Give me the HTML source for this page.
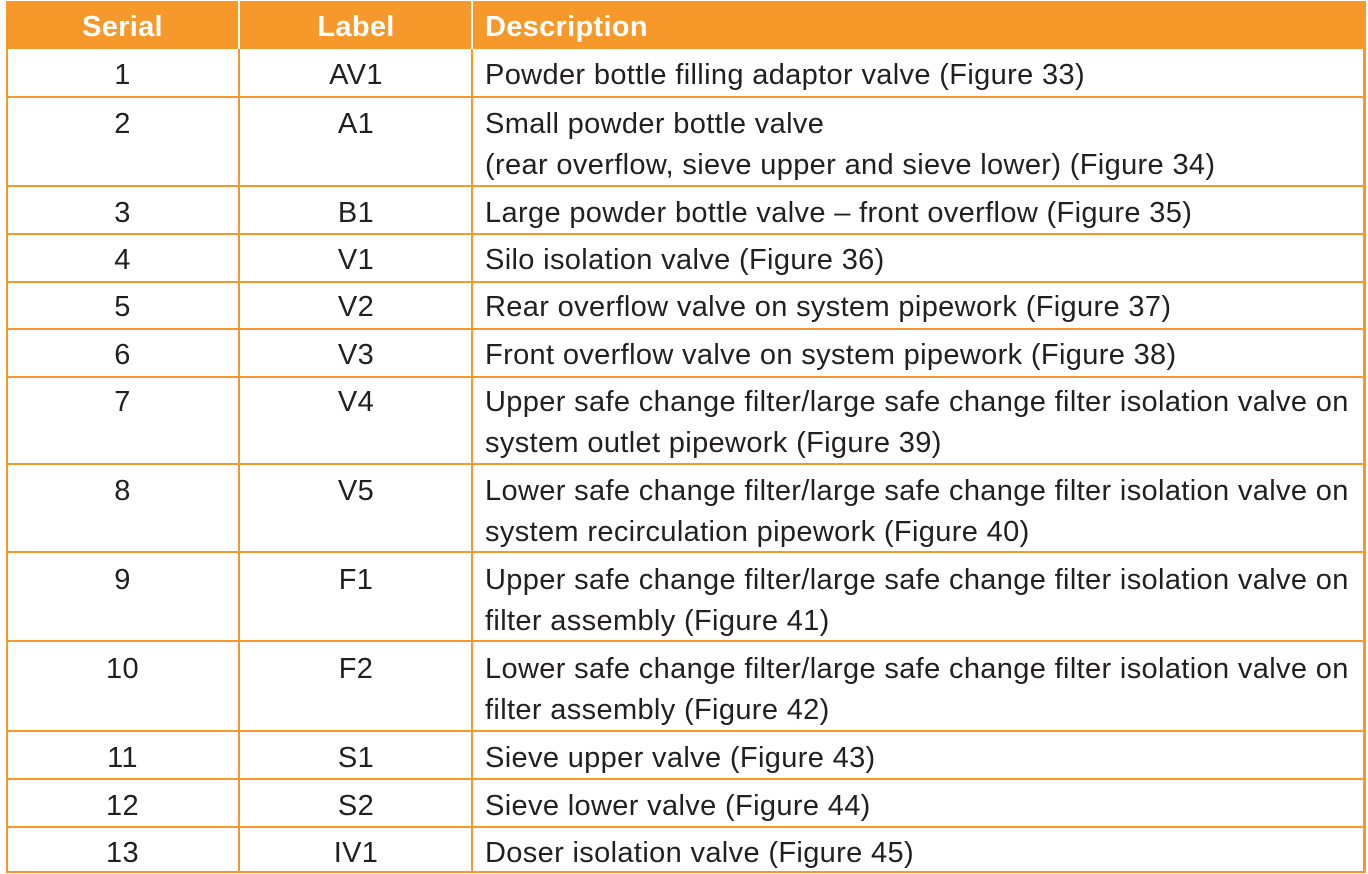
<!DOCTYPE html>
<html><head><meta charset="utf-8"><style>
body{margin:0;width:1368px;height:873px;background:#fff;position:relative;overflow:hidden;font-family:"Liberation Sans",Arial,sans-serif;color:#231f20}
.hd{position:absolute;left:6px;top:1px;width:1360px;height:48px;background:#f7982a}
.h{position:absolute;top:1px;height:48px;line-height:52px;color:#fff;font-weight:bold;font-size:29px;letter-spacing:0.3px}
.hl{position:absolute;left:6px;width:1360px;height:2px;background:#f7982a}
.vl{position:absolute;width:2px;background:#f7982a}
.t{position:absolute;font-size:29px;line-height:41px;white-space:nowrap;letter-spacing:0.35px;margin-top:2px}
.c1{left:6px;width:233px;text-align:center}
.c2{left:240px;width:232px;text-align:center}
.c3{left:485px}
</style></head><body>
<div class="hd"></div>
<div class="vl" style="left:238px;top:1px;height:48px;background:#fff"></div>
<div class="vl" style="left:471px;top:1px;height:48px;background:#fff"></div>
<div class="h c1">Serial</div>
<div class="h c2">Label</div>
<div class="h" style="left:485px">Description</div>
<div class="vl" style="left:6px;top:1px;height:872px"></div>
<div class="vl" style="left:238px;top:49px;height:824px"></div>
<div class="vl" style="left:471px;top:49px;height:824px"></div>
<div class="vl" style="left:1363px;top:1px;height:872px;width:3px"></div>
<div class="hl" style="top:96px"></div>
<div class="hl" style="top:185px"></div>
<div class="hl" style="top:233px"></div>
<div class="hl" style="top:281px"></div>
<div class="hl" style="top:328px"></div>
<div class="hl" style="top:376px"></div>
<div class="hl" style="top:463px"></div>
<div class="hl" style="top:551px"></div>
<div class="hl" style="top:640px"></div>
<div class="hl" style="top:730px"></div>
<div class="hl" style="top:778px"></div>
<div class="hl" style="top:826px"></div>
<div class="hl" style="top:871px"></div>

<div class="t c1" style="top:53px">1</div><div class="t c2" style="top:53px">AV1</div><div class="t c3" style="top:53px">Powder bottle filling adaptor valve (Figure 33)</div>
<div class="t c1" style="top:102px">2</div><div class="t c2" style="top:102px">A1</div><div class="t c3" style="top:102px">Small powder bottle valve<br>(rear overflow, sieve upper and sieve lower) (Figure 34)</div>
<div class="t c1" style="top:191px">3</div><div class="t c2" style="top:191px">B1</div><div class="t c3" style="top:191px">Large powder bottle valve – front overflow (Figure 35)</div>
<div class="t c1" style="top:238px">4</div><div class="t c2" style="top:238px">V1</div><div class="t c3" style="top:238px">Silo isolation valve (Figure 36)</div>
<div class="t c1" style="top:285px">5</div><div class="t c2" style="top:285px">V2</div><div class="t c3" style="top:285px">Rear overflow valve on system pipework (Figure 37)</div>
<div class="t c1" style="top:333px">6</div><div class="t c2" style="top:333px">V3</div><div class="t c3" style="top:333px">Front overflow valve on system pipework (Figure 38)</div>
<div class="t c1" style="top:380px">7</div><div class="t c2" style="top:380px">V4</div><div class="t c3" style="top:380px">Upper safe change filter/large safe change filter isolation valve on<br>system outlet pipework (Figure 39)</div>
<div class="t c1" style="top:469px">8</div><div class="t c2" style="top:469px">V5</div><div class="t c3" style="top:469px">Lower safe change filter/large safe change filter isolation valve on<br>system recirculation pipework (Figure 40)</div>
<div class="t c1" style="top:558px">9</div><div class="t c2" style="top:558px">F1</div><div class="t c3" style="top:558px">Upper safe change filter/large safe change filter isolation valve on<br>filter assembly (Figure 41)</div>
<div class="t c1" style="top:647px">10</div><div class="t c2" style="top:647px">F2</div><div class="t c3" style="top:647px">Lower safe change filter/large safe change filter isolation valve on<br>filter assembly (Figure 42)</div>
<div class="t c1" style="top:736px">11</div><div class="t c2" style="top:736px">S1</div><div class="t c3" style="top:736px">Sieve upper valve (Figure 43)</div>
<div class="t c1" style="top:784px">12</div><div class="t c2" style="top:784px">S2</div><div class="t c3" style="top:784px">Sieve lower valve (Figure 44)</div>
<div class="t c1" style="top:831px">13</div><div class="t c2" style="top:831px">IV1</div><div class="t c3" style="top:831px">Doser isolation valve (Figure 45)</div>
</body></html>
